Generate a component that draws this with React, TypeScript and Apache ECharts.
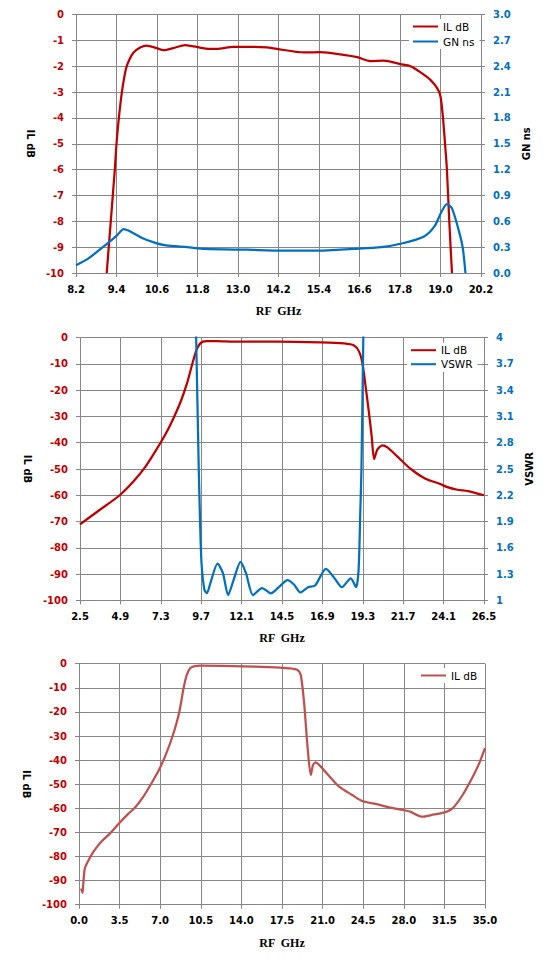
import React, { useEffect, useRef } from "react";
import * as echarts from "echarts";

// ---------- data: chart 1 (8.2–20.2 GHz) ----------
const topFreqTicks = [8.2, 20.2, 1.2];
const topIlFreq = [9.11, 9.23, 9.35, 9.40, 9.47, 9.56, 9.68, 9.78, 9.90, 10.10, 10.29, 10.59, 10.79, 11.08, 11.43, 11.87, 12.12, 12.37, 12.86, 13.36, 13.85, 14.15, 14.95, 15.44, 16.13, 16.53, 16.92, 17.32, 17.81, 18.11, 18.40, 18.70, 18.90, 19.00, 19.07, 19.14, 19.19, 19.26, 19.34];
const topIl = [-10, -8, -6, -5, -4, -3, -2.1, -1.75, -1.48, -1.28, -1.2, -1.3, -1.38, -1.3, -1.18, -1.28, -1.33, -1.33, -1.25, -1.25, -1.27, -1.33, -1.47, -1.46, -1.56, -1.65, -1.8, -1.78, -1.92, -2.0, -2.23, -2.53, -2.85, -3.17, -3.94, -5.1, -6, -8, -10];
const gnFreq = [8.2, 8.57, 9.09, 9.40, 9.61, 9.77, 10.14, 10.55, 10.87, 11.5, 12.02, 13.27, 14.32, 15.37, 16.41, 17.25, 17.88, 18.5, 18.82, 19.03, 19.19, 19.34, 19.55, 19.66, 19.74];
const gnNs = [0.09, 0.17, 0.33, 0.43, 0.51, 0.49, 0.41, 0.35, 0.32, 0.30, 0.28, 0.27, 0.26, 0.26, 0.28, 0.30, 0.345, 0.42, 0.54, 0.71, 0.80, 0.75, 0.48, 0.29, 0.0];

// ---------- data: chart 2 (2.5–26.5 GHz) ----------
const midFreqTicks = [2.5, 26.5, 2.4];
const midIlFreq = [2.5, 3.6, 4.86, 5.71, 6.4, 7.0, 7.6, 8.1, 8.5, 8.85, 9.15, 9.4, 9.6, 9.8, 10.04, 10.63, 11.62, 14.22, 16.80, 18.19, 18.78, 19.08, 19.28, 19.47, 19.67, 19.83, 19.97, 20.17, 20.47, 20.76, 21.36, 22.15, 23.02, 23.86, 24.28, 24.92, 25.55, 26.5];
const midIl = [-71.1, -65.9, -60, -54.5, -49, -43, -36.5, -30, -24, -17.5, -10.5, -5, -2.5, -1.5, -1.3, -1.3, -1.5, -1.5, -1.8, -2.2, -3.0, -5.3, -9.8, -18.7, -28.8, -37.7, -46.2, -42.5, -41, -41.8, -45.3, -50, -53.7, -55.6, -56.8, -57.9, -58.4, -60];
const vswrFreq = [9.36, 9.40, 9.55, 9.63, 9.72, 9.89, 10.04, 10.25, 10.67, 10.99, 11.30, 11.62, 12.04, 12.36, 12.78, 13.31, 13.84, 14.36, 14.83, 15.21, 15.59, 16.05, 16.47, 17.11, 17.63, 18.06, 18.58, 18.90, 19.05, 19.15, 19.22, 19.33, 19.36];
const vswr = [4.3, 4.0, 2.54, 1.92, 1.42, 1.12, 1.08, 1.20, 1.42, 1.31, 1.06, 1.23, 1.44, 1.31, 1.06, 1.14, 1.08, 1.16, 1.23, 1.18, 1.09, 1.15, 1.17, 1.36, 1.25, 1.15, 1.25, 1.15, 1.35, 2.0, 2.5, 4.0, 4.3];

// ---------- data: chart 3 (0–35 GHz) ----------
const botFreqTicks = [0, 35, 3.5];
const botFreq = [0.18, 0.30, 0.36, 0.50, 0.85, 1.31, 1.92, 2.68, 3.44, 4.20, 4.87, 5.5, 6.2, 6.9, 7.5, 8.07, 8.65, 9.02, 9.3, 9.6, 10.0, 10.4, 13.23, 16.98, 18.12, 18.84, 19.12, 19.41, 19.70, 19.98, 20.18, 20.41, 20.84, 21.56, 22.42, 23.56, 24.42, 25.57, 26.71, 27.94, 28.55, 29.61, 30.37, 31.44, 32.2, 33.0, 33.87, 34.44, 35.0];
const botIl = [-93.3, -95.1, -92, -85, -81.3, -77.6, -73.9, -70.4, -66.3, -62.5, -59.5, -55.5, -50, -44, -37.5, -30, -20, -10, -4.5, -1.8, -1.0, -0.8, -1.0, -1.5, -1.9, -2.6, -4.7, -16.5, -34.4, -46.2, -42, -40.9, -42.7, -46.6, -51, -54.5, -57, -58.2, -59.6, -60.7, -61.4, -63.5, -62.8, -61.8, -60, -55, -47.6, -42, -35];

const ilTicks = [-100, 0, 10];
const ilTopTicks = [-10, 0, 1];
const gnTicks = [0, 3.0, 0.3];
const vswrTicks = [1, 4, 0.3];

const RED = "#c00000";
const BLUE = "#0070c0";
const RED2 = "#c0504d";
const GRID = "#868686";
const SANS = "DejaVu Sans";

const zip = (a: number[], b: number[]) => a.map((x, i) => [x, b[i]]);

const xAxis = (t: number[], fmt: (v: number) => string, labelMargin: number, nameGap: number) => ({
  type: "value",
  min: t[0],
  max: t[1],
  interval: t[2],
  name: "RF  GHz",
  nameLocation: "middle",
  nameGap,
  nameTextStyle: { fontFamily: "Liberation Serif", fontWeight: "bold", fontSize: 12, color: "#000" },
  axisLine: { show: true, onZero: false, lineStyle: { color: GRID, width: 1 } },
  axisTick: { show: true, length: 4, lineStyle: { color: GRID } },
  axisLabel: {
    color: "#000",
    fontFamily: SANS,
    fontWeight: "bold",
    fontSize: 10,
    margin: labelMargin,
    interval: 0,
    showMinLabel: true,
    showMaxLabel: true,
    hideOverlap: false,
    formatter: fmt,
  },
  splitLine: { show: true, lineStyle: { color: GRID, width: 1 } },
});

const yLeft = (t: number[], gap: number) => ({
  type: "value",
  position: "left",
  min: t[0],
  max: t[1],
  interval: t[2],
  name: "IL dB",
  nameLocation: "middle",
  nameRotate: -90,
  nameGap: gap,
  nameTextStyle: { fontFamily: SANS, fontWeight: "bold", fontSize: 10, color: "#000" },
  axisLine: { show: true, onZero: false, lineStyle: { color: GRID, width: 1 } },
  axisTick: { show: true, length: 4, lineStyle: { color: GRID } },
  axisLabel: {
    color: RED,
    fontFamily: SANS,
    fontWeight: "bold",
    fontSize: 10,
    margin: 12,
    showMinLabel: true,
    showMaxLabel: true,
  },
  splitLine: { show: true, lineStyle: { color: GRID, width: 1 } },
});

const yRight = (t: number[], name: string, gap: number, fmt: (v: number) => string) => ({
  type: "value",
  position: "right",
  min: t[0],
  max: t[1],
  interval: t[2],
  name,
  nameLocation: "middle",
  nameRotate: 90,
  nameGap: gap,
  nameTextStyle: { fontFamily: SANS, fontWeight: "bold", fontSize: 10, color: "#000" },
  axisLine: { show: true, onZero: false, lineStyle: { color: GRID, width: 1 } },
  axisTick: { show: true, length: 4, lineStyle: { color: GRID } },
  axisLabel: {
    color: BLUE,
    fontFamily: SANS,
    fontWeight: "bold",
    fontSize: 10,
    margin: 12,
    showMinLabel: true,
    showMaxLabel: true,
    formatter: fmt,
  },
  splitLine: { show: false },
});

const legend = (left: number, top: number, gap: number, data: string[]) => ({
  orient: "vertical",
  left,
  top,
  itemWidth: 25,
  itemHeight: 12,
  itemGap: gap,
  backgroundColor: "#ffffff",
  padding: [2, 5, 2, 3],
  itemStyle: { opacity: 0 },
  textStyle: { fontFamily: SANS, fontSize: 10.5, color: "#000" },
  data,
});

const lineSeries = (name: string, data: number[][], color: string, yAxisIndex = 0) => ({
  name,
  type: "line",
  yAxisIndex,
  data,
  symbol: "none",
  showSymbol: false,
  smooth: 0.25,
  clip: true,
  lineStyle: { color, width: 2.25 },
  itemStyle: { color },
});

const f1 = (v: number) => v.toFixed(1);
const fTrim = (v: number) => String(Math.round(v * 10) / 10);

const opt1 = {
  animation: false,
  grid: { left: 76, top: 14.5, width: 405, height: 260.5 },
  legend: legend(409, 19, 4, ["IL dB", "GN ns"]),
  xAxis: xAxis(topFreqTicks, f1, 11, 32),
  yAxis: [yLeft(ilTopTicks, 33), yRight(gnTicks, "GN ns", 40, f1)],
  series: [
    lineSeries("IL dB", zip(topIlFreq, topIl), RED, 0),
    lineSeries("GN ns", zip(gnFreq, gnNs), BLUE, 1),
  ],
};

const opt2 = {
  animation: false,
  grid: { left: 80, top: 15.7, width: 404, height: 262.6 },
  legend: legend(407, 20.7, 3, ["IL dB", "VSWR"]),
  xAxis: xAxis(midFreqTicks, f1, 11, 32),
  yAxis: [yLeft(ilTicks, 40), yRight(vswrTicks, "VSWR", 38, fTrim)],
  series: [
    lineSeries("IL dB", zip(midIlFreq, midIl), RED, 0),
    lineSeries("VSWR", zip(vswrFreq, vswr), BLUE, 1),
  ],
};

const opt3 = {
  animation: false,
  grid: { left: 79, top: 8.7, width: 406, height: 241 },
  legend: legend(417, 13, 3, ["IL dB"]),
  xAxis: xAxis(botFreqTicks, f1, 11, 32),
  yAxis: [yLeft(ilTicks, 41)],
  series: [lineSeries("IL dB", zip(botFreq, botIl), RED2, 0)],
};

function Chart({ option, top, height }: { option: any; top: number; height: number }) {
  const ref = useRef<HTMLDivElement>(null);
  useEffect(() => {
    if (!ref.current) return;
    const chart = echarts.init(ref.current, undefined, { renderer: "svg" });
    chart.setOption(option);
    return () => chart.dispose();
  }, [option]);
  return <div ref={ref} style={{ position: "absolute", left: 0, top, width: 554, height }} />;
}

export default function App() {
  return (
    <div style={{ position: "fixed", left: 0, top: 0, width: 554, height: 967, background: "#fff", overflow: "hidden" }}>
      <Chart option={opt1} top={0} height={322} />
      <Chart option={opt2} top={322} height={333} />
      <Chart option={opt3} top={655} height={312} />
    </div>
  );
}
